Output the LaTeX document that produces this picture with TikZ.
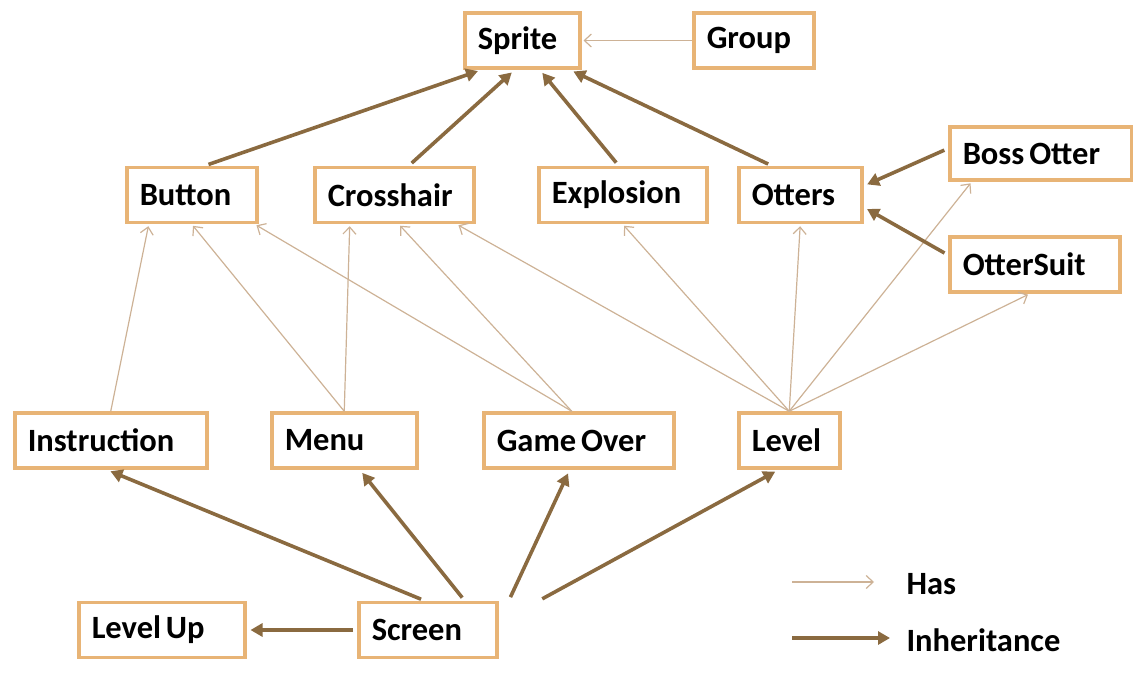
\documentclass[tikz,border=0pt]{standalone}
\usepackage{fontspec}
\setmainfont{Carlito}
\usetikzlibrary{arrows.meta}
\definecolor{boxline}{RGB}{232,180,118}
\definecolor{hasline}{RGB}{205,178,150}
\definecolor{inhline}{RGB}{138,106,64}
\newcommand{\clsfont}{\fontsize{32.5}{36}\selectfont\bfseries}
\tikzset{
  cls/.style={draw=boxline, line width=3.5pt, fill=white, anchor=west,
    font=\clsfont, align=left, execute at begin node={\spaceskip=0.15em\relax},
    inner xsep=13pt, minimum height=55pt},
  has/.style={draw=hasline, line width=1.2pt,
    -{Straight Barb[length=7pt,width=13pt]}, shorten >=2pt},
  inherit/.style={draw=inhline, line width=3.6pt,
    -{Triangle[length=12pt,width=13pt]}, shorten >=4pt, shorten <=4pt},
  legend/.style={anchor=west, font=\clsfont}
}
\begin{document}
\begin{tikzpicture}[x=1pt,y=-1pt]
      \useasboundingbox (0,0) rectangle (1133,675);
      \node[cls, text width=89pt] (sprite) at (463,40.5) {Sprite};
      \node[cls, text width=94pt] (group) at (692,40.5) {Group};
      \node[cls, text width=104pt] (button) at (125,195) {Button};
      \node[cls, text width=133pt] (crosshair) at (313,195) {Crosshair};
      \node[cls, text width=142pt] (explosion) at (537,195) {Explosion};
      \node[cls, text width=97pt] (otters) at (737,195) {Otters};
      \node[cls, text width=156pt, minimum height=53pt] (bossotter) at (948,153.5) {Boss Otter};
      \node[cls, text width=144pt] (ottersuit) at (948,264.5) {OtterSuit};
      \node[cls, text width=166pt] (instruction) at (13,440.5) {Instruction};
      \node[cls, text width=119pt] (menu) at (270,440.5) {Menu};
      \node[cls, text width=164pt] (gameover) at (482,440.5) {Game Over};
      \node[cls, text width=75pt] (level) at (737,440.5) {Level};
      \node[cls, text width=140pt] (levelup) at (77,630) {Level Up};
      \node[cls, text width=112pt] (screen) at (357,630) {Screen};
      \begin{scope}[has]
        \draw (group.west) to (sprite.east);
        \draw (instruction.north) to ([xshift=-43pt]button.south);
        \draw (menu.north) to (button.south);
        \draw (menu.north) to ([xshift=-44.5pt]crosshair.south);
        \draw ([xshift=-7pt]gameover.north) to ([xshift=63pt]button.south);
        \draw ([xshift=-7pt]gameover.north) to ([xshift=4.5pt]crosshair.south);
        \draw (level.north) to ([xshift=62.5pt]crosshair.south);
        \draw (level.north) to (explosion.south);
        \draw (level.north) to (otters.south);
        \draw (level.north) to ([xshift=-69pt]bossotter.south);
        \draw (level.north) to ([xshift=-5pt]ottersuit.south);
      \end{scope}
      \begin{scope}[inherit]
        \draw ([xshift=13pt]button.north) to ([xshift=-40.5pt]sprite.south);
        \draw ([xshift=14.5pt]crosshair.north) to ([xshift=-7.5pt]sprite.south);
        \draw ([xshift=-4pt]explosion.north) to ([xshift=17.5pt]sprite.south);
        \draw ([xshift=-28.5pt]otters.north) to ([xshift=47.5pt]sprite.south);
        \draw ([yshift=5pt]bossotter.west) to ([yshift=9pt]otters.east);
        \draw ([yshift=9.5pt]ottersuit.west) to ([yshift=-12pt]otters.east);
        \draw ([xshift=-3pt]screen.north) to ([xshift=-4pt]instruction.south);
        \draw ([xshift=37pt]screen.north) to ([xshift=15.5pt]menu.south);
        \draw ([xshift=81pt]screen.north) to ([xshift=-9pt]gameover.south);
        \draw ([xshift=111pt]screen.north) to ([xshift=-10.5pt]level.south);
        \draw (screen.west) to (levelup.east);
      \end{scope}
      \coordinate (hasa) at (792,582);
      \coordinate (hasb) at (874,582);
      \coordinate (inha) at (792,638);
      \coordinate (inhb) at (890,638);
      \draw[has, shorten >=0pt] (hasa) to (hasb);
      \draw[inherit, shorten >=0pt, shorten <=0pt] (inha) to (inhb);
      \node[legend] (haslabel) at (903,584) {Has};
      \node[legend] (inhlabel) at (903,640) {Inheritance};
    \end{tikzpicture}
\end{document}
